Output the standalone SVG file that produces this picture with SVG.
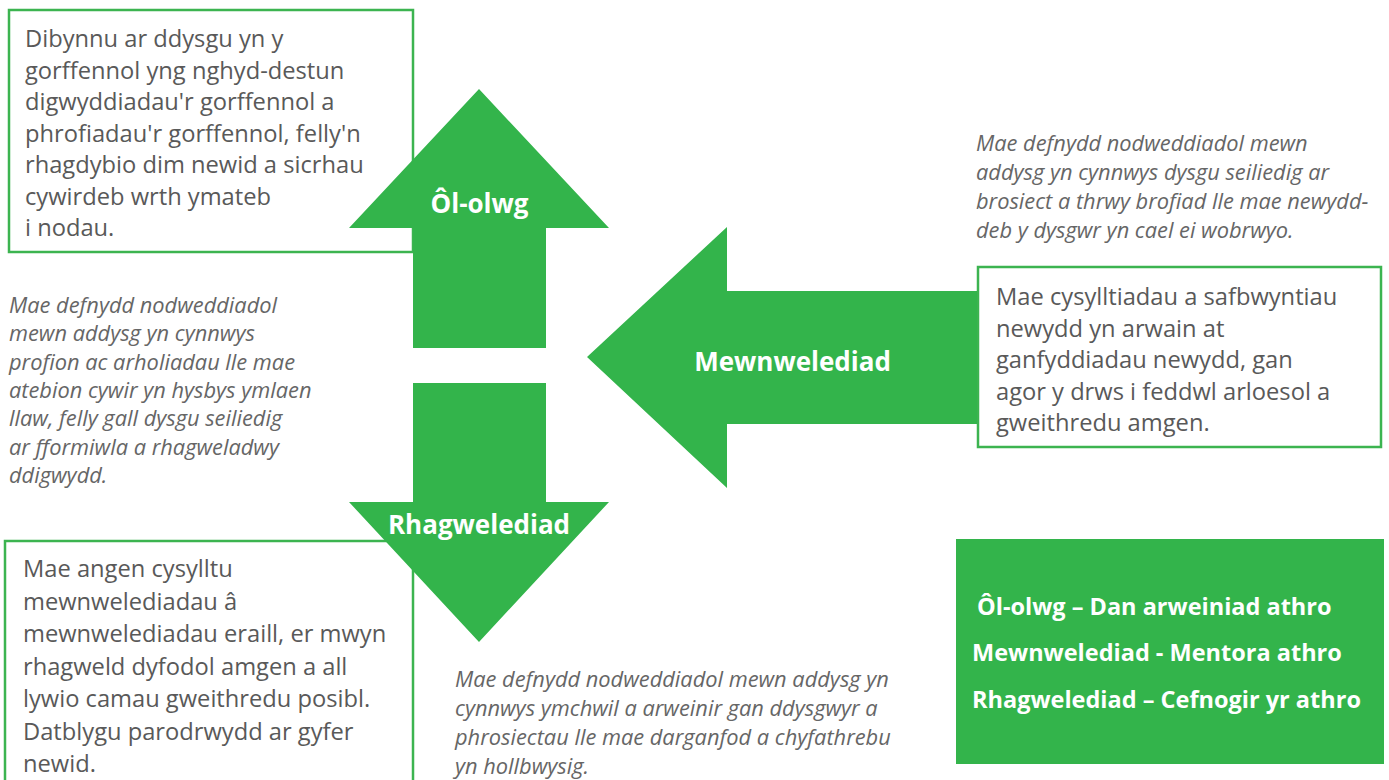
<svg xmlns="http://www.w3.org/2000/svg" width="1389" height="780" viewBox="0 0 1389 780">
<style>
.box{fill:#fff;stroke:#3cb450;stroke-width:2.5}
.arrow{fill:#33b44b}
.body{font-family:"Open Sans",sans-serif;font-size:23.7px;fill:#595959}
.note{font-family:"Open Sans",sans-serif;font-size:21.8px;font-style:italic;fill:#666}
.lbl{font-family:"Open Sans",sans-serif;font-size:26px;font-weight:bold;fill:#fff}
.leg{font-family:"Open Sans",sans-serif;font-size:23.5px;font-weight:bold;fill:#fff}
</style>
<rect width="1389" height="780" fill="#fff"/>
<g id="node-top-left">
<rect class="box" x="9" y="10" width="404" height="242"/>
<text class="body">
<tspan x="25" y="47">Dibynnu ar ddysgu yn y</tspan>
<tspan x="25" y="78.5">gorffennol yng nghyd-destun</tspan>
<tspan x="25" y="110">digwyddiadau'r gorffennol a</tspan>
<tspan x="25" y="141.5">phrofiadau'r gorffennol, felly'n</tspan>
<tspan x="25" y="173">rhagdybio dim newid a sicrhau</tspan>
<tspan x="25" y="204.5">cywirdeb wrth ymateb</tspan>
<tspan x="25" y="236">i nodau.</tspan>
</text>
</g>
<g id="node-bottom-left">
<rect class="box" x="5" y="541" width="408" height="260"/>
<text class="body">
<tspan x="23" y="577">Mae angen cysylltu</tspan>
<tspan x="23" y="609.5">mewnwelediadau â</tspan>
<tspan x="23" y="642">mewnwelediadau eraill, er mwyn</tspan>
<tspan x="23" y="674.5">rhagweld dyfodol amgen a all</tspan>
<tspan x="23" y="707">lywio camau gweithredu posibl.</tspan>
<tspan x="23" y="739.5">Datblygu parodrwydd ar gyfer</tspan>
<tspan x="23" y="772">newid.</tspan>
</text>
</g>
<g id="node-right">
<rect class="box" x="978" y="267" width="403" height="180"/>
<text class="body">
<tspan x="996" y="305">Mae cysylltiadau a safbwyntiau</tspan>
<tspan x="996" y="336.5">newydd yn arwain at</tspan>
<tspan x="996" y="368">ganfyddiadau newydd, gan</tspan>
<tspan x="996" y="399.5">agor y drws i feddwl arloesol a</tspan>
<tspan x="996" y="431">gweithredu amgen.</tspan>
</text>
</g>
<g id="connectors">
<g id="arrow-ol-olwg">
<polygon class="arrow" points="479,89 609,228 546,228 546,348 413,348 413,228 349,228"/>
<text class="lbl" x="479.5" y="213" text-anchor="middle">Ôl-olwg</text>
</g>
<g id="arrow-rhagwelediad">
<polygon class="arrow" points="413,383 546,383 546,502 609,502 479,642 349,502 413,502"/>
<text class="lbl" x="479" y="534" text-anchor="middle">Rhagwelediad</text>
</g>
<g id="arrow-mewnwelediad">
<polygon class="arrow" points="587,357 727,227 727,291 977,291 977,424 727,424 727,488"/>
<text class="lbl" x="792.5" y="371" text-anchor="middle">Mewnwelediad</text>
</g>
</g>
<g id="note-left">
<text class="note">
<tspan x="9" y="313">Mae defnydd nodweddiadol</tspan>
<tspan x="9" y="341.3">mewn addysg yn cynnwys</tspan>
<tspan x="9" y="369.6">profion ac arholiadau lle mae</tspan>
<tspan x="9" y="398">atebion cywir yn hysbys ymlaen</tspan>
<tspan x="9" y="426.3">llaw, felly gall dysgu seiliedig</tspan>
<tspan x="9" y="454.6">ar fformiwla a rhagweladwy</tspan>
<tspan x="9" y="483">ddigwydd.</tspan>
</text>
</g>
<g id="note-right">
<text class="note">
<tspan x="976" y="151">Mae defnydd nodweddiadol mewn</tspan>
<tspan x="976" y="180">addysg yn cynnwys dysgu seiliedig ar</tspan>
<tspan x="976" y="209">brosiect a thrwy brofiad lle mae newydd-</tspan>
<tspan x="976" y="238">deb y dysgwr yn cael ei wobrwyo.</tspan>
</text>
</g>
<g id="note-bottom">
<text class="note">
<tspan x="455" y="687">Mae defnydd nodweddiadol mewn addysg yn</tspan>
<tspan x="455" y="716">cynnwys ymchwil a arweinir gan ddysgwyr a</tspan>
<tspan x="455" y="745">phrosiectau lle mae darganfod a chyfathrebu</tspan>
<tspan x="455" y="774">yn hollbwysig.</tspan>
</text>
</g>
<g id="legend">
<rect x="956" y="539" width="428" height="225" fill="#33b44b"/>
<text class="leg">
<tspan x="977" y="615">Ôl-olwg – Dan arweiniad athro</tspan>
<tspan x="972" y="661">Mewnwelediad - Mentora athro</tspan>
<tspan x="972" y="708">Rhagwelediad – Cefnogir yr athro</tspan>
</text>
</g>
</svg>
